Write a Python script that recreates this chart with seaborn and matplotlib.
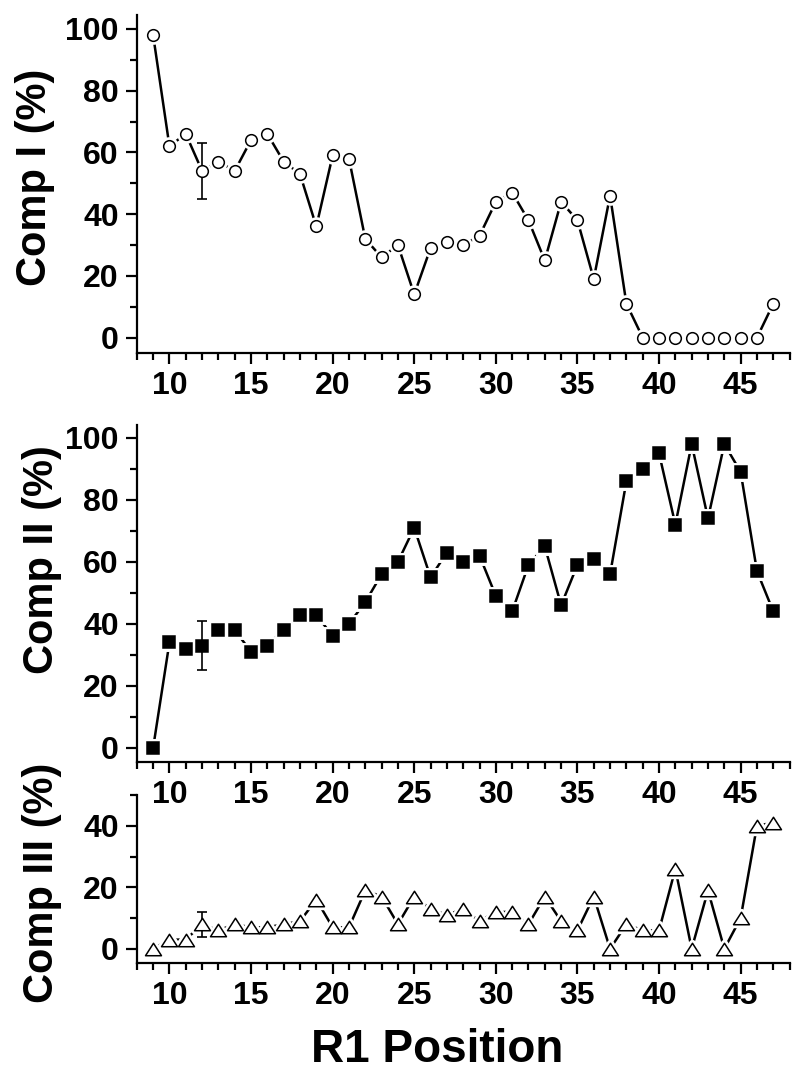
import numpy as np
import pandas as pd
import matplotlib
matplotlib.use('Agg')
import matplotlib.pyplot as plt
from matplotlib.path import Path
from matplotlib.ticker import MultipleLocator, FixedLocator
import seaborn as sns

# R1 positions and the three component percentages
positions = list(range(9, 48))
comp1 = [98, 62, 66, 54, 57, 54, 64, 66, 57, 53,
         36, 59, 58, 32, 26, 30, 14, 29, 31, 30,
         33, 44, 47, 38, 25, 44, 38, 19, 46, 11,
         0, 0, 0, 0, 0, 0, 0, 0, 11]
comp2 = [0, 34, 32, 33, 38, 38, 31, 33, 38, 43,
         43, 36, 40, 47, 56, 60, 71, 55, 63, 60,
         62, 49, 44, 59, 65, 46, 59, 61, 56, 86,
         90, 95, 72, 98, 74, 98, 89, 57, 44]
comp3 = [0, 3, 3, 8, 6, 8, 7, 7, 8, 9,
         16, 7, 7, 19, 17, 8, 17, 13, 11, 13,
         9, 12, 12, 8, 17, 9, 6, 17, 0, 8,
         6, 6, 26, 0, 19, 0, 10, 40, 41]

# single error bar at position 12: (mean, half-width)
err_pos = 12
err1 = (54, 9)
err2 = (33, 8)
err3 = (8, 4)

x_major = [10, 15, 20, 25, 30, 35, 40, 45]

sns.set_theme(style='ticks')
plt.rcParams['font.family'] = ['Liberation Sans', 'DejaVu Sans']
plt.rcParams['font.weight'] = 'bold'
plt.rcParams['axes.labelweight'] = 'bold'

df = pd.DataFrame({'pos': positions, 'c1': comp1, 'c2': comp2, 'c3': comp3})

# wide, flat open triangle like the original
tri = Path([(-1, -0.78), (1, -0.78), (0, 0.78), (-1, -0.78)], closed=True)


def draw_panel(ax, col, marker, ms, face, err, ylim, yticks, label, label_xy):
    ax.set_facecolor('none')
    sns.lineplot(data=df, x='pos', y=col, color='black', lw=1.8, ax=ax, zorder=2)
    # white halo so the line stops short of each symbol
    ax.plot(df['pos'], df[col], ls='none', marker=marker, ms=ms,
            mfc='white', mec='white', mew=5, zorder=3)
    ax.errorbar([err_pos], [err[0]], yerr=[err[1]], fmt='none', ecolor='black',
                elinewidth=1.2, capsize=3.8, capthick=1.2, zorder=4)
    ax.plot(df['pos'], df[col], ls='none', marker=marker, ms=ms,
            mfc=face, mec='black', mew=1.1, zorder=5)

    ax.set_xlim(8, 48)
    ax.set_ylim(*ylim)
    ax.xaxis.set_major_locator(FixedLocator(x_major))
    ax.xaxis.set_minor_locator(MultipleLocator(1))
    ax.yaxis.set_major_locator(FixedLocator(yticks))
    ax.yaxis.set_minor_locator(MultipleLocator(10))
    ax.tick_params(which='major', direction='out', length=8, width=1.6,
                   labelsize=23, pad=5, color='black', labelcolor='black')
    ax.tick_params(which='minor', direction='out', length=5, width=1.6, color='black')
    for lab in ax.get_xticklabels() + ax.get_yticklabels():
        lab.set_fontweight('bold')
    sns.despine(ax=ax)
    for side in ['left', 'bottom']:
        ax.spines[side].set_linewidth(1.6)
        ax.spines[side].set_color('black')
    ax.set_xlabel('')
    ax.set_ylabel(label, fontsize=30, fontweight='bold', color='black')
    ax.yaxis.set_label_coords(*label_xy)
    ax.grid(False)


fig = plt.figure(figsize=(8, 10.7), dpi=100)
ax1 = fig.add_axes([0.171, 0.670, 0.816, 0.316])
ax2 = fig.add_axes([0.171, 0.288, 0.816, 0.315])
ax3 = fig.add_axes([0.171, 0.100, 0.816, 0.157])

draw_panel(ax1, 'c1', 'o', 8.4, 'white', err1, (-5, 104.5),
           [0, 20, 40, 60, 80, 100], 'Comp I (%)', (-0.125, 0.52))
draw_panel(ax2, 'c2', 's', 8.6, 'black', err2, (-4.5, 104.2),
           [0, 20, 40, 60, 80, 100], 'Comp II (%)', (-0.115, 0.60))
draw_panel(ax3, 'c3', tri, 11.5, 'white', err3, (-4.6, 50),
           [0, 20, 40], 'Comp III (%)', (-0.115, 0.48))

fig.text(0.546, 0.0075, 'R1 Position', fontsize=33, fontweight='bold',
         ha='center', va='baseline', color='black')

fig.savefig('out.png', dpi=100)
